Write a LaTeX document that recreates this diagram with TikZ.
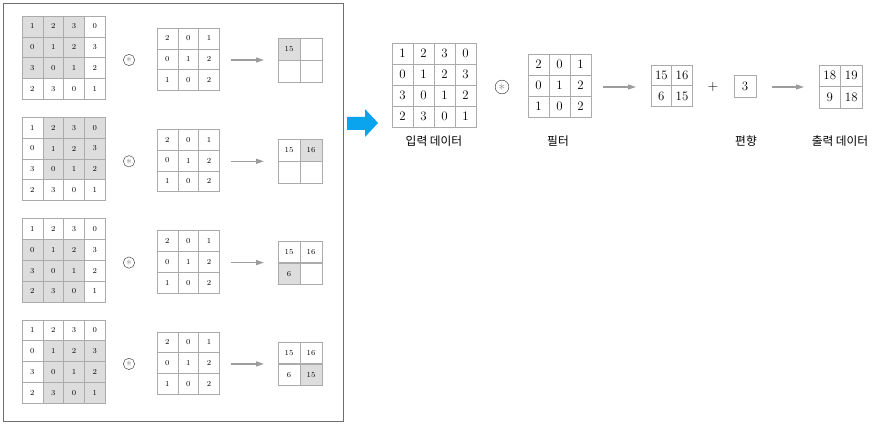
\documentclass[tikz,border=0pt]{standalone}
\usepackage{fontspec}
\newfontfamily\krfont{Noto Sans CJK KR}
\usetikzlibrary{arrows.meta,positioning}
\definecolor{gridc}{HTML}{ABABAB}
\definecolor{shadec}{HTML}{DDDDDD}
\definecolor{arrc}{HTML}{9C9C9C}
\definecolor{bluec}{HTML}{0AA3EE}
\definecolor{framec}{HTML}{6E6E6E}
\tikzset{
  sc/.style={draw=gridc,minimum size=6.24mm,inner sep=0pt,font=\fontsize{6.5}{7}\selectfont},
  oc/.style={draw=gridc,minimum size=6.5mm,inner sep=0pt,font=\fontsize{6.5}{7}\selectfont},
  bc/.style={draw=gridc,minimum size=6.3mm,inner sep=0pt,font=\fontsize{11}{12}\selectfont},
  ar/.style={-{Triangle[length=2.4mm,width=1.5mm]},arrc,line width=1.2pt},
  op/.style={circle,draw=black!75,inner sep=0pt,
    label={[text=black!45,font=#1,inner sep=0pt]center:$\ast$}},
  lbl/.style={font=\krfont\fontsize{10}{12}\selectfont}
}
\begin{document}
\begin{tikzpicture}[x=0.3mm,y=-0.3mm]
\useasboundingbox (0,0) rectangle (879,425);
\draw[framec,line width=0.8pt] (3,3) rectangle (343,421);
% left: four steps of the window
\foreach \k/\ra/\ca in {0/0/0,1/0/1,2/1/0,3/1/1}{
 \pgfmathsetmacro\dy{101.3*\k}
 \foreach \r/\row in {0/{1,2,3,0},1/{0,1,2,3},2/{3,0,1,2},3/{2,3,0,1}}{
  \foreach \v [count=\c from 0] in \row{
   \pgfmathtruncatemacro\sh{and(and(\r>=\ra,\r<=\ra+2),and(\c>=\ca,\c<=\ca+2))}
   \ifnum\sh=1 \def\fc{shadec}\else\def\fc{white}\fi
   \node[sc,fill=\fc] (i\k-\r-\c) at ({22+(\c+0.5)*20.8},{16+\dy+(\r+0.5)*20.8}) {\v};}}
 \node[op=\normalsize,minimum size=3.4mm] (m\k) at (129,{60+\dy}) {};
 \foreach \r/\row in {0/{2,0,1},1/{0,1,2},2/{1,0,2}}{
  \foreach \v [count=\c from 0] in \row{
   \node[sc] (f\k-\r-\c) at ({157+(\c+0.5)*20.8},{28+\dy+(\r+0.5)*20.8}) {\v};}}
 \coordinate (as\k) at (231,{60+\dy});
 \coordinate (ae\k) at (264,{60+\dy});
 \draw[ar] (as\k) -- (ae\k);
 \foreach \r/\c/\v [count=\i from 0] in {0/0/15,0/1/16,1/0/6,1/1/15}{
  \ifnum\i=\k \def\fc{shadec}\else\def\fc{white}\fi
  \ifnum\i>\k \def\tv{}\else\def\tv{\v}\fi
  \node[oc,fill=\fc] (o\k-\r-\c) at ({278+(\c+0.5)*22},{38+\dy+(\r+0.5)*22}) {\tv};}
}
% blue arrow
\fill[bluec] (347,117) -- (365,117) -- (365,109) -- (378,123) -- (365,137) -- (365,130) -- (347,130) -- cycle;
% right: whole computation
\foreach \r/\row in {0/{1,2,3,0},1/{0,1,2,3},2/{3,0,1,2},3/{2,3,0,1}}{
 \foreach \v [count=\c from 0] in \row{
  \node[bc] (in-\r-\c) at ({392+(\c+0.5)*21},{43+(\r+0.5)*21}) {\v};}}
\node[op=\large,minimum size=4.1mm] (mul) at (502,87) {};
\foreach \r/\row in {0/{2,0,1},1/{0,1,2},2/{1,0,2}}{
 \foreach \v [count=\c from 0] in \row{
  \node[bc] (flt-\r-\c) at ({528+(\c+0.5)*21},{54+(\r+0.5)*21}) {\v};}}
\foreach \r/\c/\v in {0/0/15,0/1/16,1/0/6,1/1/15}{
 \node[bc,minimum size=6.2mm] (mid-\r-\c) at ({651+(\c+0.5)*20.7},{65+(\r+0.5)*20.7}) {\v};}
\node[font=\large] (plus) at (713,87) {$+$};
\node[bc,minimum size=6.6mm] (bias) at (745,86) {3};
\foreach \r/\c/\v in {0/0/18,0/1/19,1/0/9,1/1/18}{
 \node[bc,minimum size=6.4mm] (out-\r-\c) at ({819+(\c+0.5)*21.5},{65+(\r+0.5)*21.5}) {\v};}
\coordinate (b1) at (603,87);
\coordinate (b2) at (636,87);
\coordinate (c1) at (772,87);
\coordinate (c2) at (804,87);
\draw[ar] (b1) -- (b2);
\draw[ar] (c1) -- (c2);
\node[lbl] (tin) at (434,141) {입력 데이터};
\node[lbl] (tflt) at (558,141) {필터};
\node[lbl] (tbias) at (746,141) {편향};
\node[lbl] (tout) at (840,141) {출력 데이터};
\end{tikzpicture}
\end{document}
